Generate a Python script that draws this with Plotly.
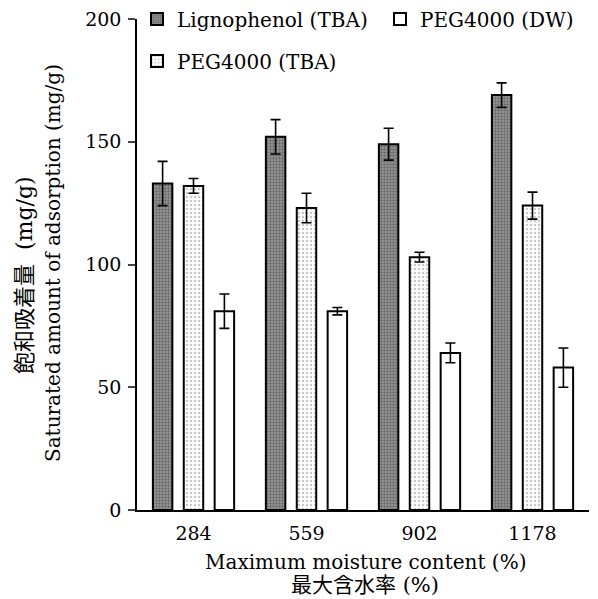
import plotly.graph_objects as go

categories = ["284", "559", "902", "1178"]
series_names = ["Lignophenol (TBA)", "PEG4000 (TBA)", "PEG4000 (DW)"]
lignophenol_tba = [133, 152, 149, 169]
lignophenol_tba_err = [9, 7, 6.5, 5]
peg_tba = [132, 123, 103, 124]
peg_tba_err = [3, 6, 2, 5.5]
peg_dw = [81, 81, 64, 58]
peg_dw_err = [7, 1.5, 4, 8]
y_ticks = [0, 50, 100, 150, 200]

SERIF = "DejaVu Serif"
CJK = "Noto Sans CJK JP"

W, H = 598, 599
L, R, T, B = 137, 9, 19, 89

fig = go.Figure()

styles = [
    dict(color="#8c8c8c", pattern=dict(shape=".", fgcolor="#3a3a3a", bgcolor="#9a9a9a", size=3, solidity=0.5), legend="legend"),
    dict(color="white", pattern=dict(shape=".", fgcolor="#8f8f8f", bgcolor="white", size=4, solidity=0.3), legend="legend3"),
    dict(color="white", pattern=dict(shape="", fgcolor="white", bgcolor="white"), legend="legend2"),
]
data = [(lignophenol_tba, lignophenol_tba_err), (peg_tba, peg_tba_err), (peg_dw, peg_dw_err)]

for name, (vals, errs), st in zip(series_names, data, styles):
    fig.add_trace(go.Bar(
        x=categories, y=vals, name=name,
        marker=dict(color=st["color"], pattern=st["pattern"],
                    line=dict(color="black", width=2)),
        error_y=dict(type="data", array=errs, visible=True, color="black",
                     thickness=1.6, width=5),
        legend=st["legend"],
    ))

def leg(px, py):
    return dict(xref="container", yref="container", x=px / W, y=1 - py / H,
                xanchor="left", yanchor="middle", bgcolor="rgba(0,0,0,0)",
                borderwidth=0, font=dict(family=SERIF, size=20, color="black"),
                itemwidth=30)

fig.update_layout(
    width=W, height=H,
    margin=dict(l=L, r=R, t=T, b=B, autoexpand=False),
    paper_bgcolor="white", plot_bgcolor="white",
    barmode="group", bargap=0.18, bargroupgap=0.37,
    font=dict(family=SERIF, size=19, color="black"),
    showlegend=True,
    legend=leg(137, 19),
    legend2=leg(380, 19),
    legend3=leg(137, 61),
    xaxis=dict(range=[-0.5, 3.5], showline=True, linecolor="black", linewidth=1.5,
               ticks="", tickfont=dict(family=SERIF, size=19), ticklabelstandoff=5,
               fixedrange=True),
    yaxis=dict(range=[0, 200], tickvals=y_ticks, showline=True, linecolor="black",
               linewidth=1.5, ticks="outside", ticklen=7, tickwidth=1.5,
               showgrid=False, zeroline=False, ticklabelstandoff=3,
               tickfont=dict(family=SERIF, size=19)),
)

pw, ph = W - L - R, H - T - B
def px2paper(px, py):
    return (px - L) / pw, (H - B - py) / ph

x, y = px2paper(365, 562)
fig.add_annotation(text="Maximum moisture content (%)", xref="paper", yref="paper",
                   x=x, y=y, xanchor="center", yanchor="middle", showarrow=False,
                   font=dict(family=SERIF, size=20))
x, y = px2paper(365, 585)
fig.add_annotation(text="最大含水率 (%)", xref="paper", yref="paper",
                   x=x, y=y, xanchor="center", yanchor="middle", showarrow=False,
                   font=dict(family=SERIF + ", " + CJK, size=21))
x, y = px2paper(53, 263)
fig.add_annotation(text="Saturated amount of adsorption (mg/g)", xref="paper", yref="paper",
                   x=x, y=y, xanchor="center", yanchor="middle", showarrow=False,
                   textangle=-90, font=dict(family=SERIF, size=20))
x, y = px2paper(24, 275)
fig.add_annotation(text="飽和吸着量  (mg/g)",
                   xref="paper", yref="paper",
                   x=x, y=y, xanchor="center", yanchor="middle", showarrow=False,
                   textangle=-90, font=dict(family=SERIF + ", " + CJK, size=22))

fig.write_html("out.html")
